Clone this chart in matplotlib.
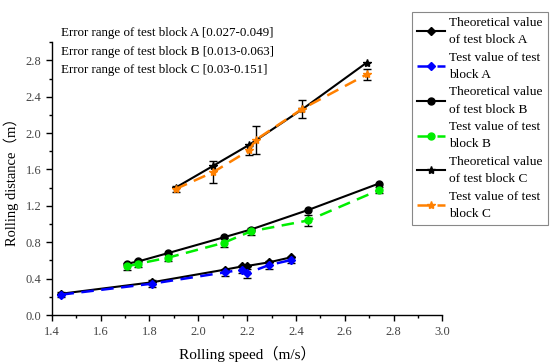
import matplotlib
matplotlib.use('Agg')
import matplotlib.pyplot as plt
from matplotlib.ticker import MultipleLocator

plt.rcParams['font.family'] = ['Liberation Serif', 'Noto Sans CJK SC']

# block A
a_x = [1.44, 1.81, 2.11, 2.18, 2.20, 2.29, 2.38]
a_theo = [0.235, 0.36, 0.50, 0.535, 0.54, 0.58, 0.635]
a_test = [0.225, 0.345, 0.47, 0.50, 0.46, 0.55, 0.605]
a_err = [0.03, 0.04, 0.04, 0.04, 0.05, 0.04, 0.03]

# block B
b_x = [1.71, 1.755, 1.875, 2.105, 2.215, 2.45, 2.74]
b_theo = [0.565, 0.59, 0.68, 0.855, 0.94, 1.155, 1.446]
b_test = [0.535, 0.565, 0.63, 0.795, 0.92, 1.04, 1.374]
b_err = [0.04, 0.04, 0.04, 0.05, 0.04, 0.06, 0.03]

# block C
c_x_theo = [1.907, 2.061, 2.208, 2.425, 2.69]
c_theo = [1.40, 1.64, 1.87, 2.26, 2.775]
c_x_test = [1.907, 2.061, 2.208, 2.235, 2.425, 2.69]
c_test = [1.385, 1.57, 1.81, 1.925, 2.265, 2.645]
c_err = [0.03, 0.12, 0.05, 0.15, 0.10, 0.06]

notes = ['Error range of test block A [0.027-0.049]',
         'Error range of test block B [0.013-0.063]',
         'Error range of test block C [0.03-0.151]']

labels = ['Theoretical value\nof test block A', 'Test value of test\nblock A',
          'Theoretical value\nof test block B', 'Test value of test\nblock B',
          'Theoretical value\nof test block C', 'Test value of test\nblock C']

fig = plt.figure(figsize=(5.5, 3.63), dpi=100)
ax = fig.add_axes([0.094, 0.132, 0.7105, 0.752])

dash = (0, (5, 3))
ebkw = dict(ecolor='black', elinewidth=1.0, capsize=3, capthick=1.0)

h = []
l, = ax.plot(a_x, a_theo, color='black', lw=1.5, marker='D', ms=4)
h.append(l)
eb = ax.errorbar(a_x, a_test, yerr=a_err, color='#0000ff', lw=1.8, ls=dash, marker='D', ms=4, **ebkw)
h.append(eb[0])
l, = ax.plot(b_x, b_theo, color='black', lw=1.5, marker='o', ms=5)
h.append(l)
eb = ax.errorbar(b_x, b_test, yerr=b_err, color='#00ee00', lw=1.8, ls=dash, marker='o', ms=5, **ebkw)
h.append(eb[0])
l, = ax.plot(c_x_theo, c_theo, color='black', lw=1.5, marker='*', ms=6)
h.append(l)
eb = ax.errorbar(c_x_test, c_test, yerr=c_err, color='#ff8000', lw=1.8, ls=dash, marker='*', ms=6, **ebkw)
h.append(eb[0])

ax.set_xlim(1.4, 3.0)
ax.set_ylim(0.0, 3.0)
ax.xaxis.set_major_locator(MultipleLocator(0.2))
ax.xaxis.set_minor_locator(MultipleLocator(0.1))
ax.yaxis.set_major_locator(MultipleLocator(0.4))
ax.yaxis.set_minor_locator(MultipleLocator(0.2))
ax.spines['top'].set_visible(False)
ax.spines['right'].set_visible(False)
for s in ['left', 'bottom']:
    ax.spines[s].set_linewidth(1.0)
ax.tick_params(which='major', direction='out', length=4, width=1.0, labelsize=9, labelcolor='#444444')
ax.tick_params(which='minor', direction='out', length=2, width=1.0)
ax.set_xticklabels([f'{v:.1f}' for v in ax.get_xticks()])
ax.set_yticklabels([f'{v:.1f}' for v in ax.get_yticks()])

ax.set_xlabel('Rolling speed（m/s）', fontsize=11, labelpad=6)
ax.set_ylabel('Rolling distance（m）', fontsize=10.5, labelpad=5)

for i, t in enumerate(notes):
    ax.text(0.025, 1.033 - i * 0.068, t, transform=ax.transAxes, fontsize=9.4, va='center', ha='left')

leg = fig.legend(h, labels, loc='upper left', bbox_to_anchor=(0.7485, 0.968), fontsize=9.6,
                 frameon=True, fancybox=False, edgecolor='#888888', framealpha=1,
                 labelspacing=0.42, handlelength=2.1, handletextpad=0.3,
                 borderpad=0.4, borderaxespad=0)
leg.get_frame().set_linewidth(0.8)
for t in leg.get_texts():
    t.set_linespacing(1.57)

fig.savefig('out.png', dpi=100)
